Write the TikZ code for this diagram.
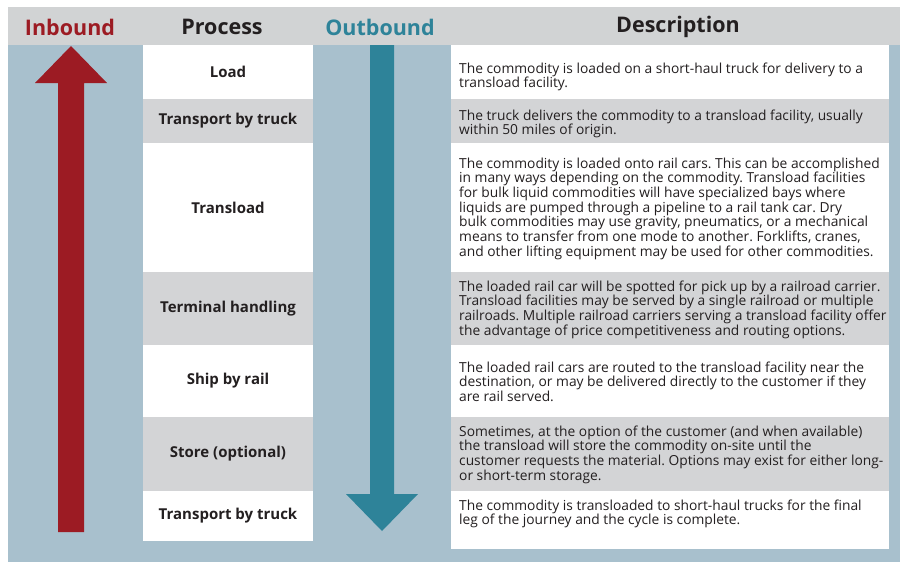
\documentclass[tikz,border=0pt]{standalone}
\usepackage{fontspec}
\setmainfont{Open Sans}
\frenchspacing
\definecolor{hdrgray}{HTML}{D1D3D4}
\definecolor{rowgray}{HTML}{D3D4D6}
\definecolor{bgblue}{HTML}{A8C0CD}
\definecolor{inred}{HTML}{9C1B23}
\definecolor{outteal}{HTML}{2E8399}
\definecolor{ink}{HTML}{231F20}
\tikzset{
  heading/.style={font=\fontsize{21.5}{24}\selectfont\bfseries, inner sep=0pt, anchor=center},
  procbox/.style={minimum width=170pt, inner sep=0pt, text=ink, font=\fontsize{15}{17}\selectfont\bfseries},
  descbox/.style={minimum width=438pt, inner sep=0pt, anchor=north west},
  desctext/.style={inner sep=0pt, anchor=north west, align=left, text=ink, font=\fontsize{13.8}{14.7}\selectfont},
}
\begin{document}
\begin{tikzpicture}[x=1pt,y=-1pt]
\useasboundingbox (0,0) rectangle (900,563);
\fill[white] (0,0) rectangle (900,563);
% background panels
\fill[hdrgray] (8,7) rectangle (900,45);
\fill[bgblue] (8,45) rectangle (900,562);
% headings
\node[heading, text=inred] (hin) at (70,27) {Inbound};
\node[heading, text=ink] (hproc) at (222,27) {Process};
\node[heading, text=outteal] (hout) at (380,27) {Outbound};
\node[heading, text=ink] (hdesc) at (678,27) {Description};
% arrows
\fill[inred] (58,532) -- (58,83) -- (35,83) -- (71,46) -- (107,83) -- (84,83) -- (84,532) -- cycle;
\fill[outteal] (370,45) -- (370,494) -- (346,494) -- (382,531) -- (418,494) -- (394,494) -- (394,45) -- cycle;
% process column
\node[procbox, fill=white,   minimum height=54pt]  (p1) at (228,72)    {Load};
\node[procbox, fill=rowgray, minimum height=44pt]  (p2) at (228,121)   {Transport by truck};
\node[procbox, fill=white,   minimum height=129pt] (p3) at (228,207.5) {Transload};
\node[procbox, fill=rowgray, minimum height=73pt]  (p4) at (228,308.5) {Terminal handling};
\node[procbox, fill=white,   minimum height=72pt]  (p5) at (228,381)   {Ship by rail};
\node[procbox, fill=rowgray, minimum height=74pt]  (p6) at (228,454)   {Store (optional)};
\node[procbox, fill=white,   minimum height=50pt]  (p7) at (228,516)   {Transport by truck};
% description column boxes
\node[descbox, fill=white,   minimum height=54pt]  (d1) at (451,45)  {};
\node[descbox, fill=rowgray, minimum height=44pt]  (d2) at (451,99)  {};
\node[descbox, fill=white,   minimum height=129pt] (d3) at (451,143) {};
\node[descbox, fill=rowgray, minimum height=73pt]  (d4) at (451,272) {};
\node[descbox, fill=white,   minimum height=72pt]  (d5) at (451,345) {};
\node[descbox, fill=rowgray, minimum height=74pt]  (d6) at (451,417) {};
\node[descbox, fill=white,   minimum height=58pt]  (d7) at (451,491) {};
% description texts
\node[desctext] (t1) at (459,62.5) {The commodity is loaded on a short-haul truck for delivery to a\\transload facility.};
\node[desctext] (t2) at (459,109.5) {The truck delivers the commodity to a transload facility, usually\\within 50 miles of origin.};
\node[desctext] (t3) at (459,157.5) {The commodity is loaded onto rail cars. This can be accomplished\\in many ways depending on the commodity. Transload facilities\\for bulk liquid commodities will have specialized bays where\\liquids are pumped through a pipeline to a rail tank car. Dry\\bulk commodities may use gravity, pneumatics, or a mechanical\\means to transfer from one mode to another. Forklifts, cranes,\\and other lifting equipment may be used for other commodities.};
\node[desctext] (t4) at (459,280.5) {The loaded rail car will be spotted for pick up by a railroad carrier.\\Transload facilities may be served by a single railroad or multiple\\railroads. Multiple railroad carriers serving a transload facility offer\\the advantage of price competitiveness and routing options.};
\node[desctext] (t5) at (459,361.5) {The loaded rail cars are routed to the transload facility near the\\destination, or may be delivered directly to the customer if they\\are rail served.};
\node[desctext] (t6) at (459,425.5) {Sometimes, at the option of the customer (and when available)\\the transload will store the commodity on-site until the\\customer requests the material. Options may exist for either long-\\or short-term storage.};
\node[desctext] (t7) at (459,499.5) {The commodity is transloaded to short-haul trucks for the final\\leg of the journey and the cycle is complete.};
\end{tikzpicture}
\end{document}
